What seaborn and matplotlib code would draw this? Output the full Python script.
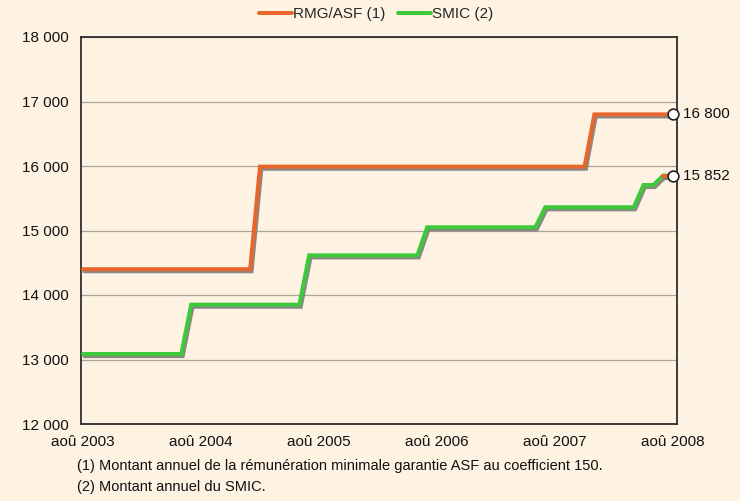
import matplotlib
matplotlib.use("Agg")
import numpy as np
import pandas as pd
import matplotlib.pyplot as plt
import matplotlib.patheffects as pe
from matplotlib.lines import Line2D
import seaborn as sns

# Monthly steps, August 2003 to August 2008 (61 months)
rmg_levels = [14400, 15990, 16800]
rmg_months = [18, 34, 9]
smic_levels = [13085, 13850, 14615, 15050, 15360, 15705, 15852]
smic_months = [11, 12, 12, 12, 10, 2, 2]

tick_months = [0, 12, 24, 36, 48, 60]
tick_labels = ["aoû 2003", "aoû 2004", "aoû 2005", "aoû 2006", "aoû 2007", "aoû 2008"]
y_ticks = [12000, 13000, 14000, 15000, 16000, 17000, 18000]
y_labels = ["12 000", "13 000", "14 000", "15 000", "16 000", "17 000", "18 000"]

series_names = ["RMG/ASF (1)", "SMIC (2)"]
notes = [
    "(1) Montant annuel de la rémunération minimale garantie ASF au coefficient 150.",
    "(2) Montant annuel du SMIC.",
]

rmg = np.repeat(rmg_levels, rmg_months)
smic = np.repeat(smic_levels, smic_months)
months = np.arange(len(rmg))

long = pd.DataFrame({
    "mois": np.concatenate([months, months]),
    "valeur": np.concatenate([rmg, smic]),
    "serie": [series_names[0]] * len(months) + [series_names[1]] * len(months),
})

BG = "#FEF3E2"
ORANGE = "#E8652B"
GREEN = "#3DC93A"
SHADOW = "#7C7C7C"
FS = 11

sns.set_theme(style="white")
plt.rcParams["font.family"] = ["Liberation Sans", "DejaVu Sans"]

fig = plt.figure(figsize=(7.4, 5.01), dpi=100, facecolor=BG)
ax = fig.add_axes([81 / 740, 1 - 424 / 501, 596 / 740, 387 / 501])
ax.set_facecolor(BG)

sns.lineplot(
    data=long, x="mois", y="valeur", hue="serie",
    hue_order=series_names[::-1], palette={series_names[0]: ORANGE, series_names[1]: GREEN},
    linewidth=2.9, ax=ax, legend=False, zorder=3,
)

shadow = [pe.SimpleLineShadow(offset=(1.0, -1.5), shadow_color=SHADOW, alpha=0.9), pe.Normal()]
for line in ax.get_lines():
    line.set_path_effects(shadow)
    line.set_solid_joinstyle("miter")

# last SMIC segment drawn in the RMG colour
tail = pd.DataFrame({"mois": months[-2:], "valeur": smic[-2:]})
sns.lineplot(data=tail, x="mois", y="valeur", color=ORANGE, linewidth=2.9, ax=ax, zorder=4)
ax.get_lines()[-1].set_path_effects(shadow)

# end-point markers and value labels
ends = pd.DataFrame({"mois": [months[-1], months[-1]], "valeur": [rmg[-1], smic[-1]]})
sns.scatterplot(
    data=ends, x="mois", y="valeur", s=60, color="white", edgecolor="#222222",
    linewidth=1.2, ax=ax, zorder=6, clip_on=False,
)
for v in ends["valeur"]:
    ax.annotate(f"{int(v):,}".replace(",", " "), xy=(months[-1], v), xytext=(7, 0),
                textcoords="offset points", va="center", ha="left", fontsize=FS,
                color="#111111", annotation_clip=False)

ax.set_xlim(-0.2, 60.4)
ax.set_ylim(12000, 18000)
ax.set_xticks(tick_months)
ax.set_xticklabels(tick_labels)
ax.set_yticks(y_ticks)
ax.set_yticklabels(y_labels)
ax.set_xlabel("")
ax.set_ylabel("")
ax.tick_params(length=0, labelsize=FS, colors="#111111")
ax.tick_params(axis="y", pad=9)
ax.tick_params(axis="x", pad=8)

ax.yaxis.grid(True, color="#A9A49B", linewidth=0.9)
ax.xaxis.grid(False)
ax.set_axisbelow(True)
for sp in ax.spines.values():
    sp.set_visible(True)
    sp.set_color("#2E2E2E")
    sp.set_linewidth(1.3)

handles = [Line2D([], [], color=ORANGE, lw=2.9), Line2D([], [], color=GREEN, lw=2.9)]
fig.legend(handles, series_names, loc="center", bbox_to_anchor=(376 / 740, 1 - 14 / 501),
           ncol=2, frameon=False, fontsize=FS, handlelength=2.2, handletextpad=0.05,
           columnspacing=0.8)

fig.text(77 / 740, 1 - 466 / 501, notes[0], fontsize=10.5, va="center", ha="left", color="#111111")
fig.text(77 / 740, 1 - 487 / 501, notes[1], fontsize=10.5, va="center", ha="left", color="#111111")

fig.savefig("out.png", dpi=100, facecolor=BG)
